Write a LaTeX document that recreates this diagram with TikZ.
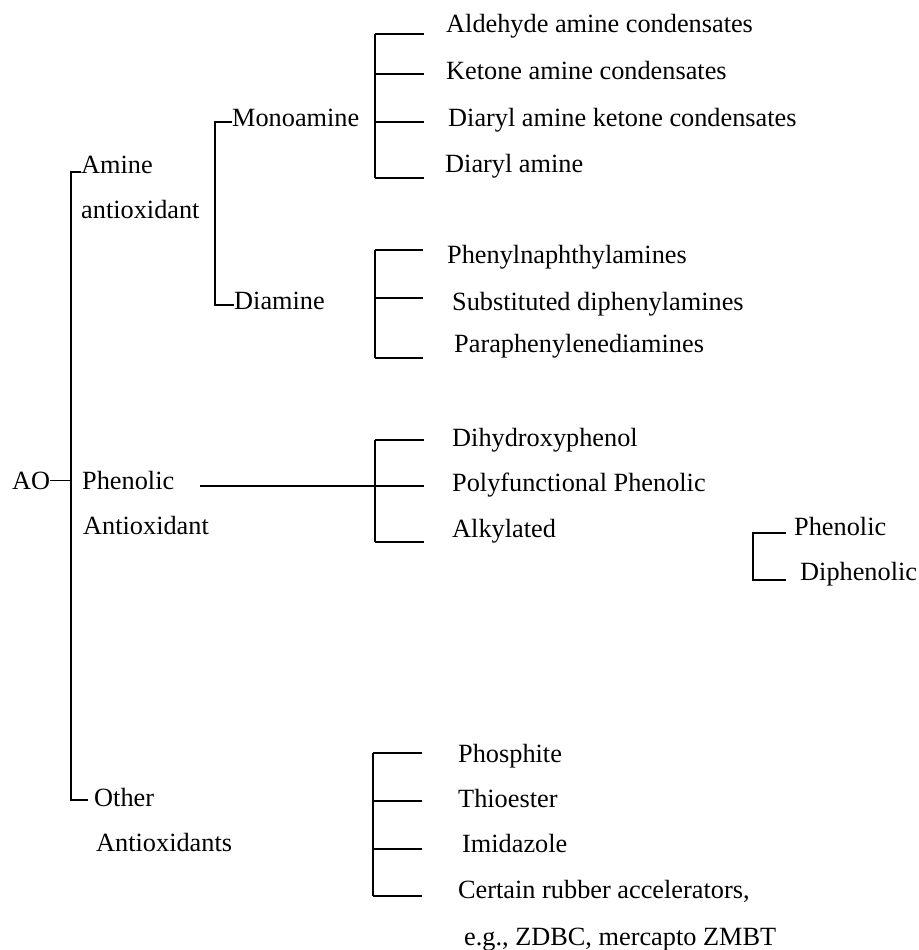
\documentclass[tikz,border=0pt]{standalone}
\usepackage{fontspec}
\setmainfont{Liberation Serif}

\begin{document}
\begin{tikzpicture}[x=1pt, y=-1pt,
        lbl/.style={anchor=base west, inner sep=0pt, font=\fontsize{26.3}{30}\selectfont},
        br/.style={line width=1.3pt}]
    \useasboundingbox (0,0) rectangle (918,950);

    % first level
    \node[lbl] (ao)     at (12,489)  {AO};
    \node[lbl] (amine)  at (81,173)  {Amine};
    \node[lbl] (amine2) at (81,218)  {antioxidant};
    \node[lbl] (phen)   at (82,489)  {Phenolic};
    \node[lbl] (phen2)  at (83,534)  {Antioxidant};
    \node[lbl] (other)  at (94,806)  {Other};
    \node[lbl] (other2) at (96,851)  {Antioxidants};

    \coordinate (spT) at (71,172);
    \coordinate (spB) at (71,800);
    \coordinate (spE) at (88,800);
    \draw[br] (amine.base west |- spT) -- (spT) -- (spB) -- (spE);
    \draw[br] (ao.east) -- (ao.east -| spT);

    % amines
    \node[lbl] (mono) at (232,126) {Monoamine};
    \node[lbl] (dia)  at (234,309) {Diamine};
    \coordinate (amT) at (215,122);
    \coordinate (amB) at (215,305);
    \draw[br] (mono.base west |- amT) -- (amT) -- (amB) -- (dia.base west |- amB);

    \node[lbl] (ald)  at (446,33)  {Aldehyde amine condensates};
    \node[lbl] (ket)  at (446,80)  {Ketone amine condensates};
    \node[lbl] (dak)  at (448,126) {Diaryl amine ketone condensates};
    \node[lbl] (dam)  at (445,172) {Diaryl amine};
    \foreach \y [count=\i] in {34,74,122,178} {
        \coordinate (ma\i) at (375,\y);
        \coordinate (mb\i) at (424,\y);
    }
    \draw[br] (ma1) -- (ma4);
    \foreach \i in {1,...,4} \draw[br] (ma\i) -- (mb\i);

    \node[lbl] (pna) at (447,263) {Phenylnaphthylamines};
    \node[lbl] (sdp) at (452,310) {Substituted diphenylamines};
    \node[lbl] (ppd) at (454,352) {Paraphenylenediamines};
    \foreach \y [count=\i] in {250,298,358} {
        \coordinate (da\i) at (375,\y);
        \coordinate (db\i) at (423,\y);
    }
    \draw[br] (da1) -- (da3);
    \foreach \i in {1,...,3} \draw[br] (da\i) -- (db\i);

    % phenolics
    \node[lbl] (dhp) at (452,446) {Dihydroxyphenol};
    \node[lbl] (pfp) at (452,491) {Polyfunctional Phenolic};
    \node[lbl] (alk) at (452,537) {Alkylated};
    \foreach \y [count=\i] in {440,486,542} {
        \coordinate (pa\i) at (375,\y);
        \coordinate (pb\i) at (424,\y);
    }
    \coordinate (pl) at (200,486);
    \draw[br] (pa1) -- (pa3);
    \foreach \i in {1,...,3} \draw[br] (pa\i) -- (pb\i);
    \draw[br] (pl) -- (pa2);

    \node[lbl] (alk1) at (794,535) {Phenolic};
    \node[lbl] (alk2) at (800,580) {Diphenolic};
    \coordinate (ka1) at (753,533);
    \coordinate (ka2) at (753,580);
    \coordinate (kb1) at (786,533);
    \coordinate (kb2) at (786,580);
    \draw[br] (kb1) -- (ka1) -- (ka2) -- (kb2);

    % others
    \node[lbl] (phs) at (458,762) {Phosphite};
    \node[lbl] (thi) at (458,807) {Thioester};
    \node[lbl] (imi) at (462,852) {Imidazole};
    \node[lbl] (acc) at (458,898) {Certain rubber accelerators,};
    \node[lbl] (acc2) at (464,945) {e.g., ZDBC, mercapto ZMBT};
    \foreach \y [count=\i] in {753,801,849,896} {
        \coordinate (oa\i) at (373,\y);
        \coordinate (ob\i) at (422,\y);
    }
    \draw[br] (oa1) -- (oa4);
    \foreach \i in {1,...,4} \draw[br] (oa\i) -- (ob\i);
\end{tikzpicture}
\end{document}
